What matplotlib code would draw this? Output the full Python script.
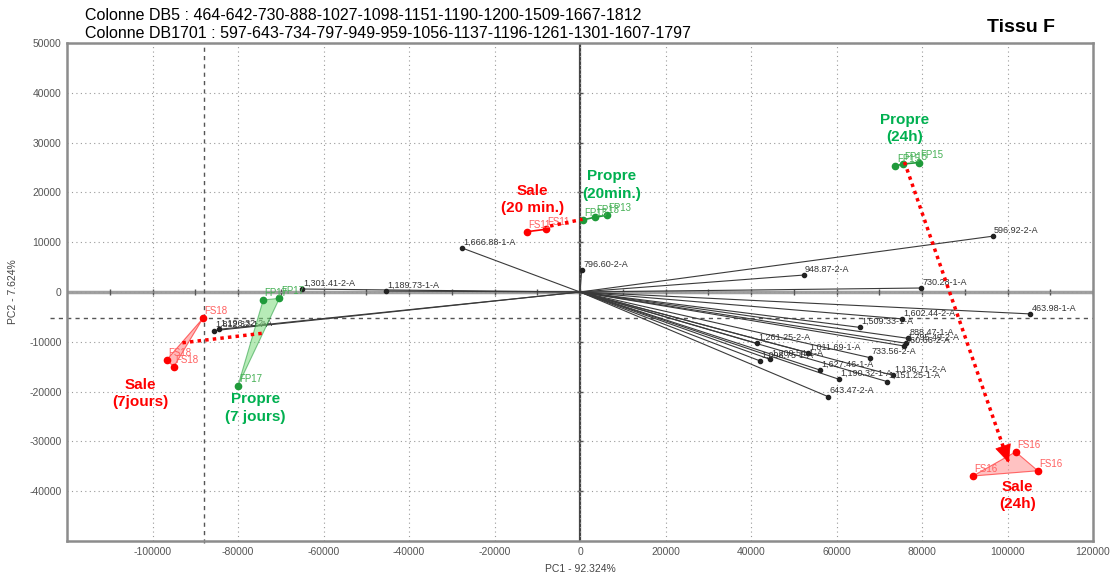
import numpy as np
import matplotlib
matplotlib.use("Agg")
import matplotlib.pyplot as plt
from matplotlib.patches import Polygon

plt.rcParams['font.family'] = ['Liberation Sans', 'DejaVu Sans']
plt.rcParams['axes.unicode_minus'] = False

# ---------------- data ----------------
header_lines = ["Colonne DB5 : 464-642-730-888-1027-1098-1151-1190-1200-1509-1667-1812",
                "Colonne DB1701 : 597-643-734-797-949-959-1056-1137-1196-1261-1301-1607-1797"]
panel_title = "Tissu F"
xlabel = "PC1 - 92.324%"
ylabel = "PC2 - 7.624%"

# loadings (variables)
load_names = ["596.92-2-A", "948.87-2-A", "730.28-1-A", "463.98-1-A", "1,602.44-2-A",
              "1,509.33-1-A", "888.47-1-A", "1,795.49-2-A", "960.66-2-A", "1,261.25-2-A",
              "1,011.69-1-A", "733.56-2-A", "1,098.75-1-A", "1,200.54-1-A", "1,627.46-1-A",
              "1,190.32-1-A", "1,136.71-2-A", "1,151.25-1-A", "643.47-2-A", "1,666.88-1-A",
              "796.60-2-A", "1,301.41-2-A", "1,189.73-1-A", "1,812.32-1-A", "1,196.32-2-A"]
load_x = [96500, 52300, 79700, 105300, 75400,
          65400, 76700, 76300, 75900, 41300,
          53300, 67900, 42000, 44400, 56100,
          60500, 73100, 71900, 58000, -27600,
          400, -65000, -45300, -85700, -84500]
load_y = [11200, 3400, 800, -4400, -5400,
          -7100, -9300, -10300, -10850, -10300,
          -12200, -13200, -13800, -13500, -15660,
          -17500, -16700, -18000, -21000, 8840,
          4400, 600, 200, -7770, -7500]

# scores (samples)
fs18_x = [-88200, -96700, -95000]
fs18_y = [-5280, -13650, -15000]
fp17_x = [-74100, -70300, -80000]
fp17_y = [-1600, -1270, -18800]
fs11_x = [-12500, -7900]
fs11_y = [12100, 12600]
fp13_x = [600, 3400, 6200]
fp13_y = [14460, 15000, 15400]
fp15_x = [73800, 75500, 79300]
fp15_y = [25300, 25700, 26000]
fs16_x = [101900, 107100, 91900]
fs16_y = [-32100, -35900, -36950]

# group captions
group_text = ["Sale\n(7jours)", "Propre\n(7 jours)", "Sale\n(20 min.)",
              "Propre\n(20min.)", "Propre\n(24h)", "Sale\n(24h)"]
group_x = [-102800, -75900, -11200, 7500, 75900, 102300]
group_y = [-20400, -23300, 18600, 21500, 32900, -40800]
group_is_red = [True, False, True, False, False, True]

# red dotted links between groups
link_start = [(-93000, -10200), (-7000, 13250)]
link_end = [(-74400, -8300), (600, 14600)]
arrow_start = (75900, 26100)
arrow_end = (100300, -34300)

# reference lines
ref_x = -88000
ref_y = -5200

RED = '#ff0000'
GREEN = '#00b050'
RED_LBL = '#ff6060'
GREEN_LBL = '#45b055'

# ---------------- plot ----------------
fig = plt.figure(figsize=(11.13, 5.73), dpi=100)
ax = fig.add_axes([67 / 1113, 32 / 573, 1026 / 1113, 498 / 573])
ax.set_xlim(-120000, 120000)
ax.set_ylim(-50000, 50000)

ax.set_xticks(np.arange(-100000, 120001, 20000))
ax.set_yticks(np.arange(-40000, 50001, 10000))
ax.grid(True, color='#9a9a9a', linestyle=(0, (1, 3)), linewidth=0.8)
ax.tick_params(length=0, labelsize=7.5, labelcolor='#555555', pad=4)
for s in ax.spines.values():
    s.set_color('#8c8c8c')
    s.set_linewidth(1.8)

# zero axes with small tick marks
ax.axhline(0, color='#a0a0a0', linewidth=2.5, zorder=1)
ax.axvline(0, color='#444444', linewidth=1.6, zorder=1)
ax.plot(np.arange(-110000, 120001, 10000), np.zeros(24), linestyle='none',
        marker='|', markersize=4, color='#555555', zorder=1)
ax.plot(np.zeros(9), np.arange(-40000, 45000, 10000), linestyle='none',
        marker='_', markersize=4, color='#555555', zorder=1)

# dashed reference lines
ax.plot([ref_x, ref_x], [-50500, 50000], color='#555555', linestyle=(0, (3, 3)),
        linewidth=1.0, clip_on=False, zorder=2)
ax.plot([-124000, 120000], [ref_y, ref_y], color='#555555', linestyle=(0, (3, 3)),
        linewidth=1.0, clip_on=False, zorder=2)

# loadings
for name, lx, ly in zip(load_names, load_x, load_y):
    ax.plot([0, lx], [0, ly], color='#3a3a3a', linewidth=0.8, zorder=3)
    ax.plot(lx, ly, 'o', color='#222222', markersize=3, zorder=4)
    ax.annotate(name, (lx, ly), xytext=(1, 1), textcoords='offset points',
                fontsize=6.5, color='#333333', ha='left', va='bottom', zorder=5)


def score_group(xs, ys, line_col, fill_col, lbl_col, name, fill=True):
    if fill:
        ax.add_patch(Polygon(np.column_stack([xs, ys]), closed=True, facecolor=fill_col,
                             edgecolor=line_col, linewidth=0.8, alpha=0.55, zorder=5))
    else:
        ax.plot(xs, ys, color=line_col, linewidth=1.2, zorder=5)
    ax.plot(xs, ys, 'o', color=line_col, markersize=4.5, linestyle='none', zorder=6)
    for px, py in zip(xs, ys):
        ax.annotate(name, (px, py), xytext=(1, 1.5), textcoords='offset points',
                    fontsize=7, color=lbl_col, ha='left', va='bottom', zorder=7)


score_group(fs18_x, fs18_y, RED, '#ff8080', RED_LBL, 'FS18')
score_group(fp17_x, fp17_y, '#1f9a3a', '#7ddc7d', GREEN_LBL, 'FP17')
score_group(fs11_x, fs11_y, RED, RED, RED_LBL, 'FS11', fill=False)
score_group(fp13_x, fp13_y, '#1f9a3a', GREEN, GREEN_LBL, 'FP13', fill=False)
score_group(fp15_x, fp15_y, '#1f9a3a', GREEN, GREEN_LBL, 'FP15', fill=False)
score_group(fs16_x, fs16_y, RED, '#ff9090', RED_LBL, 'FS16')

# red dotted links
dots = (0, (1, 1.2))
for (x0, y0), (x1, y1) in zip(link_start, link_end):
    ax.plot([x0, x1], [y0, y1], color=RED, linestyle=dots, linewidth=2.5, zorder=8)
# long arrow: dotted shaft + solid head
ax.plot([arrow_start[0], arrow_end[0]], [arrow_start[1], arrow_end[1]],
        color=RED, linestyle=dots, linewidth=2.5, zorder=8)
ax.annotate('', xy=arrow_end, xytext=(arrow_end[0] - 1200, arrow_end[1] + 3000), zorder=8,
            arrowprops=dict(arrowstyle='-|>,head_length=1.2,head_width=0.55', color=RED,
                            linewidth=0.5, shrinkA=0, shrinkB=0))

# group captions
for t, gx, gy, red in zip(group_text, group_x, group_y, group_is_red):
    ax.text(gx, gy, t, color=RED if red else GREEN, fontsize=11, fontweight='bold',
            ha='center', va='center', linespacing=1.3, zorder=9)

ax.set_xlabel(xlabel, fontsize=7.5, color='#444444', labelpad=5)
ax.set_ylabel(ylabel, fontsize=7.5, color='#444444', labelpad=8)

fig.text(85 / 1113, 1 - 16 / 573, header_lines[0], fontsize=11.5, ha='left', va='center')
fig.text(85 / 1113, 1 - 34 / 573, header_lines[1], fontsize=11.5, ha='left', va='center')
fig.text(1021 / 1113, 1 - 28 / 573, panel_title, fontsize=14, fontweight='bold',
         ha='center', va='center')

fig.savefig('out.png', dpi=100)
